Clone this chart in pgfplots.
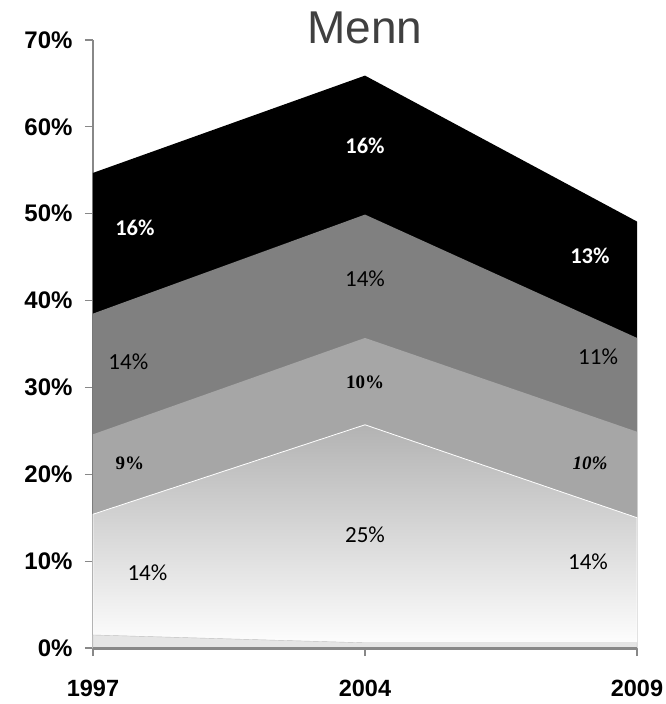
\documentclass[border=0pt]{standalone}
\usepackage{fontspec}
\setmainfont{Liberation Sans}
\newfontfamily\carlito{Carlito}
\newfontfamily\serifb{Liberation Serif}
\usepackage{pgfplots}
\pgfplotsset{compat=1.18}
\definecolor{axgray}{HTML}{888888}
\definecolor{titlegray}{HTML}{404040}
\begin{document}
\begin{tikzpicture}
\useasboundingbox (-93pt,-56pt) rectangle (572pt,648pt);
\begin{axis}[
  at={(0,0)}, anchor=south west,
  scale only axis, width=544pt, height=608pt,
  xmin=0, xmax=2, ymin=0, ymax=70,
  axis lines*=left,
  axis line style={axgray, line width=1.2pt},
  xtick={0,1,2}, xticklabels={1997,2004,2009},
  ytick={0,10,20,30,40,50,60,70},
  yticklabels={0\%,10\%,20\%,30\%,40\%,50\%,60\%,70\%},
  tick style={axgray, line width=1.2pt},
  tick align=outside,
  major tick length=8pt,
  yticklabel style={font=\fontsize{24}{24}\selectfont\bfseries, xshift=-9pt},
  xticklabel style={font=\fontsize{23.5}{24}\selectfont\bfseries, yshift=-21pt},
  clip=false,
]
% cumulative tops of the stacked layers
\addplot[draw=none, fill=black] coordinates {(0,54.7) (1,65.9) (2,49.1)} \closedcycle;
\addplot[draw=none, fill=black!50] coordinates {(0,38.5) (1,49.9) (2,35.7)} \closedcycle;
\addplot[draw=none, fill=black!35] coordinates {(0,24.6) (1,35.7) (2,24.9)} \closedcycle;
\addplot[draw=white, line width=0.8pt, top color=black!30, bottom color=white] coordinates {(0,15.4) (1,25.7) (2,15.0)} \closedcycle;
\addplot[draw=black!25, fill=black!10] coordinates {(0,1.5) (1,0.6) (2,0.6)} \closedcycle;

\node[font=\fontsize{46}{46}\selectfont, text=titlegray] at (rel axis cs:0.5,1) [yshift=12pt] {Menn};

\node[font=\carlito\bfseries\fontsize{22.5}{23}\selectfont, text=white] at (axis cs:0.154,48.4) {16\%};
\node[font=\carlito\fontsize{23}{23}\selectfont] at (axis cs:0.13,32.9) {14\%};
\node[font=\serifb\bfseries\fontsize{19}{19}\selectfont] at (axis cs:0.136,21.3) {9\%};
\node[font=\carlito\fontsize{23}{23}\selectfont] at (axis cs:0.2,8.7) {14\%};
\node[font=\carlito\bfseries\fontsize{22.5}{23}\selectfont, text=white] at (axis cs:1,57.8) {16\%};
\node[font=\carlito\fontsize{23}{23}\selectfont] at (axis cs:1,42.5) {14\%};
\node[font=\serifb\bfseries\fontsize{19}{19}\selectfont] at (axis cs:1,30.6) {10\%};
\node[font=\carlito\fontsize{23}{23}\selectfont] at (axis cs:1,13.0) {25\%};
\node[font=\carlito\bfseries\fontsize{22.5}{23}\selectfont, text=white] at (axis cs:1.827,45.2) {13\%};
\node[font=\carlito\fontsize{23}{23}\selectfont] at (axis cs:1.857,33.5) {11\%};
\node[font=\serifb\bfseries\itshape\fontsize{19}{19}\selectfont] at (axis cs:1.827,21.3) {10\%};
\node[font=\carlito\fontsize{23}{23}\selectfont] at (axis cs:1.82,9.9) {14\%};

\draw[axgray, line width=3pt] (axis cs:0,0) -- (axis cs:2,0);
\end{axis}
\end{tikzpicture}
\end{document}
